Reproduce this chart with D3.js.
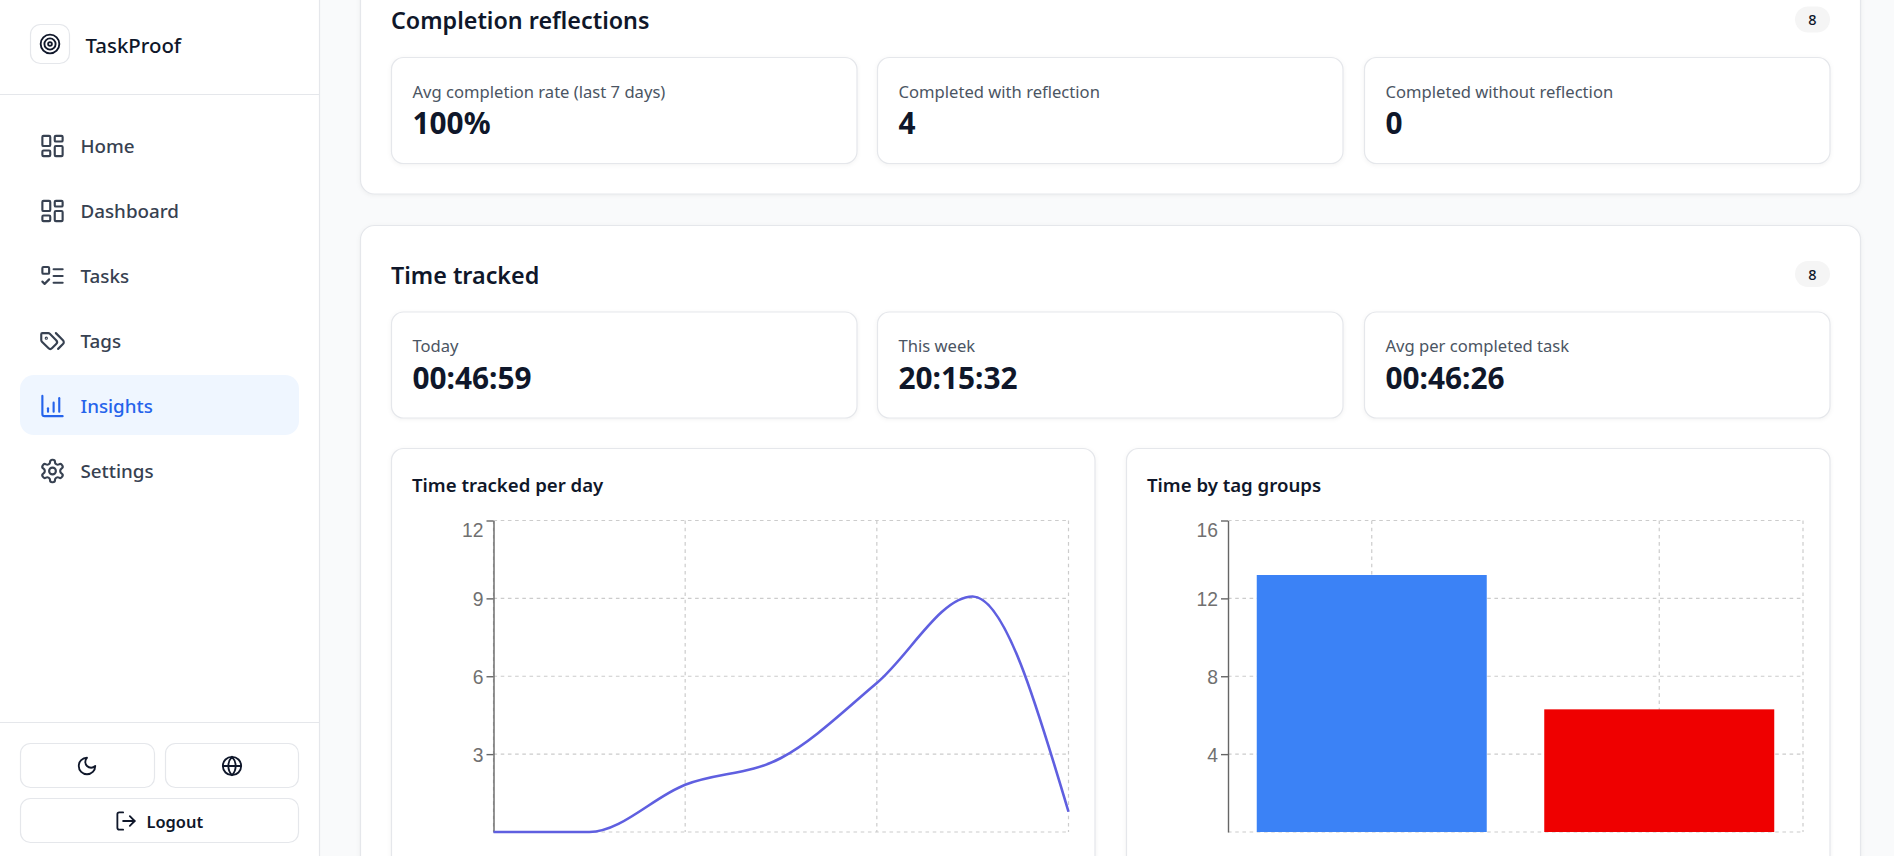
<!DOCTYPE html>
<html>
<head>
<meta charset="utf-8">
<title>TaskProof insights</title>
<script src="https://cdn.jsdelivr.net/npm/d3@7/dist/d3.min.js"></script>
<style>
  html, body { margin: 0; padding: 0; background: #f9fafb; overflow: hidden; }
  svg { display: block; font-family: "Noto Sans", Inter, sans-serif; }
  .tick text { font-family: "Liberation Sans", Arial, sans-serif; }
</style>
</head>
<body>
<svg id="page" width="1894" height="856"></svg>
<script>
// chart data
let dayKeys = ['d1', 'd2', 'd3', 'd4', 'd5', 'd6', 'd7'];
let hoursPerDay = [0, 0, 1.82, 2.85, 5.74, 9.07, 0.78];
let hourTicks = [3, 6, 9, 12];
let tagGroups = ['Work', 'Personal'];
let tagHours = [13.2, 6.3];
let tagColors = ['#3b82f6', '#ef0000'];
let tagTicks = [4, 8, 12, 16];

// text of the page
let navLabels = ['Home', 'Dashboard', 'Tasks', 'Tags', 'Insights', 'Settings'];
let navIcons = ['dash', 'dash', 'tasks', 'tags', 'bars', 'gear'];
let reflectionLabels = ['Avg completion rate (last 7 days)', 'Completed with reflection', 'Completed without reflection'];
let reflectionValues = ['100%', '4', '0'];
let timeLabels = ['Today', 'This week', 'Avg per completed task'];
let timeValues = ['00:46:59', '20:15:32', '00:46:26'];

let ICONS = {
  dash: '<rect x="3" y="3" width="7" height="9" rx="1"/><rect x="14" y="3" width="7" height="5" rx="1"/><rect x="14" y="12" width="7" height="9" rx="1"/><rect x="3" y="16" width="7" height="5" rx="1"/>',
  tasks: '<rect x="3" y="4" width="6" height="6" rx="1"/><path d="m3 17 2 2 4-4"/><path d="M13 6h8"/><path d="M13 12h8"/><path d="M13 18h8"/>',
  tags: '<path d="m15 5 6.3 6.3a2.4 2.4 0 0 1 0 3.4L17 19"/><path d="M9.586 5.586A2 2 0 0 0 8.172 5H3a1 1 0 0 0-1 1v5.172a2 2 0 0 0 .586 1.414L8.29 18.29a2.426 2.426 0 0 0 3.42 0l3.58-3.58a2.426 2.426 0 0 0 0-3.42z"/><circle cx="6.5" cy="9.5" r=".5"/>',
  bars: '<path d="M3 3v16a2 2 0 0 0 2 2h16"/><path d="M8 17v-3"/><path d="M13 17V9"/><path d="M18 17V5"/>',
  gear: '<path d="M12.22 2h-.44a2 2 0 0 0-2 2v.18a2 2 0 0 1-1 1.73l-.43.25a2 2 0 0 1-2 0l-.15-.08a2 2 0 0 0-2.73.73l-.22.38a2 2 0 0 0 .73 2.73l.15.1a2 2 0 0 1 1 1.72v.51a2 2 0 0 1-1 1.74l-.15.09a2 2 0 0 0-.73 2.73l.22.38a2 2 0 0 0 2.73.73l.15-.08a2 2 0 0 1 2 0l.43.25a2 2 0 0 1 1 1.73V20a2 2 0 0 0 2 2h.44a2 2 0 0 0 2-2v-.18a2 2 0 0 1 1-1.73l.43-.25a2 2 0 0 1 2 0l.15.08a2 2 0 0 0 2.73-.73l.22-.39a2 2 0 0 0-.73-2.73l-.15-.08a2 2 0 0 1-1-1.74v-.5a2 2 0 0 1 1-1.74l.15-.09a2 2 0 0 0 .73-2.73l-.22-.38a2 2 0 0 0-2.73-.73l-.15.08a2 2 0 0 1-2 0l-.43-.25a2 2 0 0 1-1-1.73V4a2 2 0 0 0-2-2z"/><circle cx="12" cy="12" r="3"/>',
  moon: '<path d="M12 3a6 6 0 0 0 9 9 9 9 0 1 1-9-9Z"/>',
  globe: '<circle cx="12" cy="12" r="10"/><path d="M12 2a14.5 14.5 0 0 0 0 20 14.5 14.5 0 0 0 0-20"/><path d="M2 12h20"/>',
  logout: '<path d="M9 21H5a2 2 0 0 1-2-2V5a2 2 0 0 1 2-2h4"/><path d="m16 17 5-5-5-5"/><path d="M21 12H9"/>',
  target: '<circle cx="12" cy="12" r="10"/><circle cx="12" cy="12" r="6"/><circle cx="12" cy="12" r="2"/>'
};

let INK = '#0f172a';
let BORDER = '#e5e7eb';
let GRID = '#ccc';
let svg = d3.select('#page');

function box (x, y, w, h, r, opts) {
  opts = opts || {};
  return svg.append('rect')
    .attr('x', x).attr('y', y).attr('width', w).attr('height', h).attr('rx', r)
    .attr('fill', opts.fill || '#fff')
    .attr('stroke', opts.stroke === undefined ? BORDER : opts.stroke)
    .attr('stroke-width', 1.2)
    .style('filter', opts.shadow ? 'drop-shadow(0 1px 2px rgba(0,0,0,0.05))' : null);
}
function label (str, x, y, size, weight, color, anchor) {
  return svg.append('text')
    .attr('x', x).attr('y', y)
    .attr('font-size', size).attr('font-weight', weight)
    .attr('fill', color).attr('text-anchor', anchor || 'start')
    .text(str);
}
function icon (name, cx, cy, size, color, width) {
  svg.append('g')
    .attr('transform', 'translate(' + (cx - size / 2) + ',' + (cy - size / 2) + ') scale(' + size / 24 + ')')
    .attr('fill', 'none').attr('stroke', color).attr('stroke-width', width || 2)
    .attr('stroke-linecap', 'round').attr('stroke-linejoin', 'round')
    .html(ICONS[name]);
}

// Sidebar
svg.append('rect').attr('width', 319.5).attr('height', 856).attr('fill', '#fff');
svg.append('line').attr('x1', 319.5).attr('x2', 319.5).attr('y1', 0).attr('y2', 856).attr('stroke', BORDER).attr('stroke-width', 1.2);
svg.append('line').attr('x1', 0).attr('x2', 319).attr('y1', 94.5).attr('y2', 94.5).attr('stroke', BORDER).attr('stroke-width', 1.2);
svg.append('line').attr('x1', 0).attr('x2', 319).attr('y1', 722.5).attr('y2', 722.5).attr('stroke', BORDER).attr('stroke-width', 1.2);
box(30.5, 24.5, 39, 39, 10);
icon('target', 50, 44, 22.4, INK, 2);
label('TaskProof', 85.5, 52.7, 20.4, 500, INK);

box(20, 375, 279, 60, 14, { fill: '#eff6ff', stroke: null });
navLabels.forEach((name, i) => {
  let cy = 146 + i * 65;
  let color = name === 'Insights' ? '#2563eb' : '#374151';
  icon(navIcons[i], 52.5, cy, 27, color, 1.9);
  label(name, 80.5, cy + 6.8, 18.8, 500, color);
});

box(20.5, 743.5, 134, 44, 10);
box(165.5, 743.5, 133, 44, 10);
box(20.5, 798.5, 278, 44, 10);
icon('moon', 87, 766, 22, INK, 2);
icon('globe', 232, 766, 22, INK, 2);
icon('logout', 126, 821, 23, INK, 1.9);
label('Logout', 146.5, 827.5, 16.4, 600, INK);

// Section cards
box(360.5, -40, 1500, 234, 14, { shadow: true });
box(360.5, 225.5, 1500, 700, 14, { shadow: true });

function section (title, y, labels, values) {
  label(title, 391, y - 28.5, 23.3, 600, INK);
  box(1795, y - 51, 35, 26, 13, { fill: '#f5f5f5', stroke: null });
  label('8', 1812.5, y - 32.5, 14.5, 500, INK, 'middle');
  [391.5, 877.5, 1364.5].forEach((x, i) => {
    box(x, y, 465.5, 106, 12, { shadow: true });
    label(labels[i], x + 21, y + 40, 16.6, 400, '#4b5563');
    label(values[i], x + 21, y + 76.5, 29.8, 700, INK);
  });
}
section('Completion reflections', 57.5, reflectionLabels, reflectionValues);
section('Time tracked', 312, timeLabels, timeValues);

// Chart cards
box(391.5, 448.5, 703.5, 460, 12, { shadow: true });
box(1126.5, 448.5, 703.5, 460, 12, { shadow: true });
label('Time tracked per day', 412, 491.5, 18.6, 600, INK);
label('Time by tag groups', 1147, 491.5, 18.6, 600, INK);

function drawGrid (g, xs, ys, x0, x1, y0, y1) {
  let grid = g.append('g').attr('stroke', GRID).attr('stroke-width', 1.2).attr('stroke-dasharray', '3.6 3.6');
  grid.selectAll('line.h').data(ys).join('line').attr('class', 'h')
    .attr('x1', x0).attr('x2', x1).attr('y1', d => d).attr('y2', d => d);
  grid.selectAll('line.v').data(xs).join('line').attr('class', 'v')
    .attr('x1', d => d).attr('x2', d => d).attr('y1', y0).attr('y2', y1);
}
function drawYAxis (g, scale, ticks) {
  let axis = g.append('g')
    .attr('transform', 'translate(' + scale.axisX + ',0)')
    .call(d3.axisLeft(scale).tickValues(ticks).tickSize(7).tickSizeOuter(0).tickPadding(3));
  axis.selectAll('path, line').attr('stroke', '#666').attr('stroke-width', 1.4);
  axis.selectAll('text').attr('fill', '#707070').attr('font-size', 19.3)
    // the top label sits below its tick, so it isn't clipped
    .attr('dy', d => d === ticks[ticks.length - 1] ? '.84em' : '.36em');
}

let plotTop = 520.5;
let plotBottom = 832;

// Time tracked per day
let lineX = d3.scalePoint().domain(dayKeys).range([493.5, 1068.5]);
let lineY = d3.scaleLinear().domain([0, 12]).range([plotBottom, plotTop]);
lineY.axisX = 493.5;
let lineChart = svg.append('g');
drawGrid(lineChart,
  dayKeys.filter((d, i) => i % 2 === 0).map(d => lineX(d)),
  [0].concat(hourTicks).map(d => lineY(d)),
  493.5, 1068.5, plotTop, plotBottom);
drawYAxis(lineChart, lineY, hourTicks);
let line = d3.line()
  .x((d, i) => lineX(dayKeys[i]))
  .y(d => lineY(d))
  .curve(d3.curveMonotoneX);
lineChart.append('path')
  .attr('d', line(hoursPerDay))
  .attr('fill', 'none')
  .attr('stroke', '#5f5fe0')
  .attr('stroke-width', 2.6);

// Time by tag groups
let barX = d3.scaleBand().domain(tagGroups).range([1228, 1803]).paddingInner(0.2).paddingOuter(0.1);
let barY = d3.scaleLinear().domain([0, 16]).range([plotBottom, plotTop]);
barY.axisX = 1228;
let barChart = svg.append('g');
drawGrid(barChart,
  tagGroups.map(d => barX(d) + barX.bandwidth() / 2).concat(barX.range()[1]),
  [0].concat(tagTicks).map(d => barY(d)),
  1228, 1803, plotTop, plotBottom);
drawYAxis(barChart, barY, tagTicks);
barChart.selectAll('rect.bar').data(tagHours).join('rect')
  .attr('class', 'bar')
  .attr('x', (d, i) => barX(tagGroups[i]))
  .attr('width', barX.bandwidth())
  .attr('y', d => barY(d))
  .attr('height', d => barY(0) - barY(d))
  .attr('fill', (d, i) => tagColors[i]);
</script>
</body>
</html>
